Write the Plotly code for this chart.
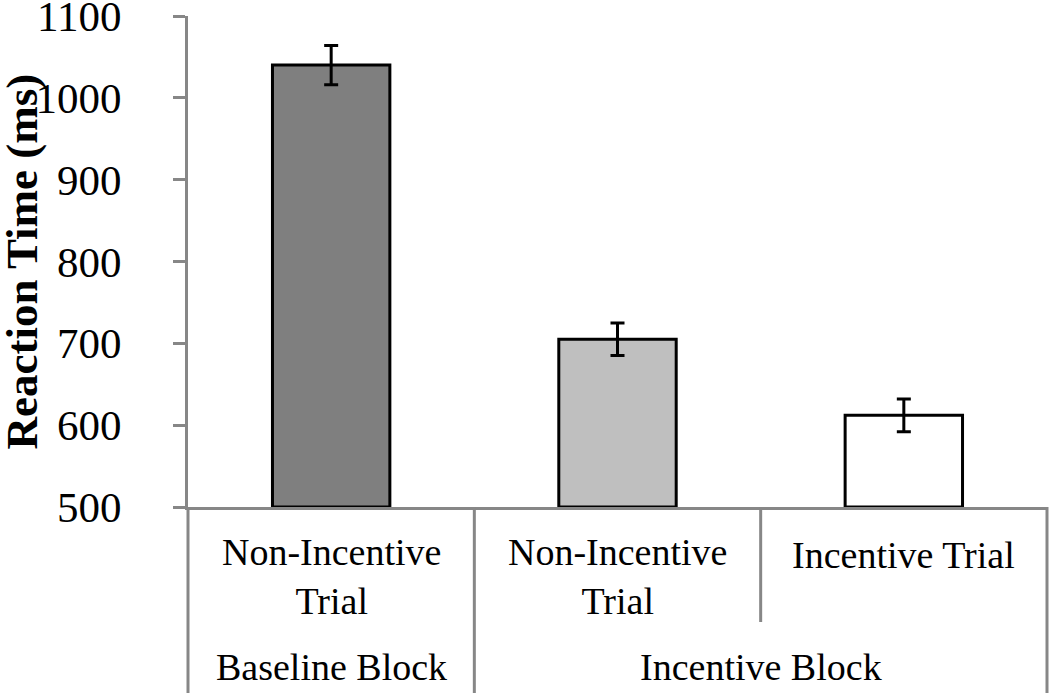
import plotly.graph_objects as go

# ---- data ----
trial_labels = ["Non-Incentive<br>Trial", "Non-Incentive<br>Trial", "Incentive Trial"]
block_labels = ["Baseline Block", "Incentive Block"]
block_spans = [(0, 0), (1, 2)]          # index range of trials per block
rt_means = [1040, 705, 612]
rt_errors = [24, 20, 20]
bar_colors = ["#7f7f7f", "#bfbfbf", "#ffffff"]
y_ticks = [500, 600, 700, 800, 900, 1000, 1100]

FONT = "Liberation Serif"
AXIS_GRAY = "#878787"
W, H = 1050, 693
ML, MR, MT, MB = 188, 3, 16, 186
plot_h = H - MT - MB

def py(pix):
    """pixel row (from top) -> paper y"""
    return (H - MB - pix) / plot_h

xs = list(range(len(rt_means)))

fig = go.Figure()
fig.add_trace(go.Bar(
    x=xs, y=[v - 500 for v in rt_means], base=500,
    width=0.41,
    marker=dict(color=bar_colors, line=dict(color="black", width=3)),
    error_y=dict(type="data", array=rt_errors, visible=True,
                 color="black", thickness=3, width=7),
    showlegend=False, hoverinfo="skip",
))

shapes = []
line = dict(color=AXIS_GRAY, width=3)
bottom = py(H + 10)
shapes.append(dict(type="line", xref="paper", yref="paper", x0=0, x1=0,
                   y0=0, y1=bottom, line=line))
shapes.append(dict(type="line", xref="paper", yref="paper", x0=1, x1=1,
                   y0=0, y1=bottom, line=line))
shapes.append(dict(type="line", xref="x", yref="paper", x0=0.5, x1=0.5,
                   y0=0, y1=bottom, line=line))
shapes.append(dict(type="line", xref="x", yref="paper", x0=1.5, x1=1.5,
                   y0=0, y1=py(622), line=line))

annotations = []
for i, lab in enumerate(trial_labels):
    two = "<br>" in lab
    annotations.append(dict(
        x=i, xref="x", y=py(576 if two else 555), yref="paper",
        text=lab, showarrow=False, yanchor="middle", xanchor="center",
        font=dict(family=FONT, size=38, color="black"),
    ))
for lab, (a, b) in zip(block_labels, block_spans):
    annotations.append(dict(
        x=(a + b) / 2, xref="x", y=py(667), yref="paper",
        text=lab, showarrow=False, yanchor="middle", xanchor="center",
        font=dict(family=FONT, size=38, color="black"),
    ))
annotations.append(dict(
    x=0, xref="paper", xshift=-(ML - 21), y=0.5, yref="paper",
    text="<b>Reaction Time (ms)</b>", textangle=-90, showarrow=False,
    xanchor="center", yanchor="middle",
    font=dict(family=FONT, size=45, color="black"),
))

fig.update_layout(
    template="none",
    width=W, height=H,
    margin=dict(l=ML, r=MR, t=MT, b=MB, pad=0, autoexpand=False),
    paper_bgcolor="white", plot_bgcolor="white",
    shapes=shapes, annotations=annotations,
    xaxis=dict(range=[-0.5, len(xs) - 0.5], showticklabels=False, ticks="",
               automargin=False,
               showgrid=False, zeroline=False, showline=True,
               linecolor=AXIS_GRAY, linewidth=3),
    yaxis=dict(range=[500, 1100], tickvals=y_ticks, ticks="outside",
               automargin=False, ticklabeloverflow="allow",
               ticklen=12, tickwidth=3, tickcolor=AXIS_GRAY,
               ticklabelstandoff=43,
               showgrid=False, zeroline=False, showline=True,
               linecolor=AXIS_GRAY, linewidth=3,
               tickfont=dict(family=FONT, size=43, color="black")),
)

fig.write_html("out.html",
               config={"displayModeBar": False},
               post_script="document.body.style.margin='0px';"
                           "document.body.style.overflow='hidden';")
